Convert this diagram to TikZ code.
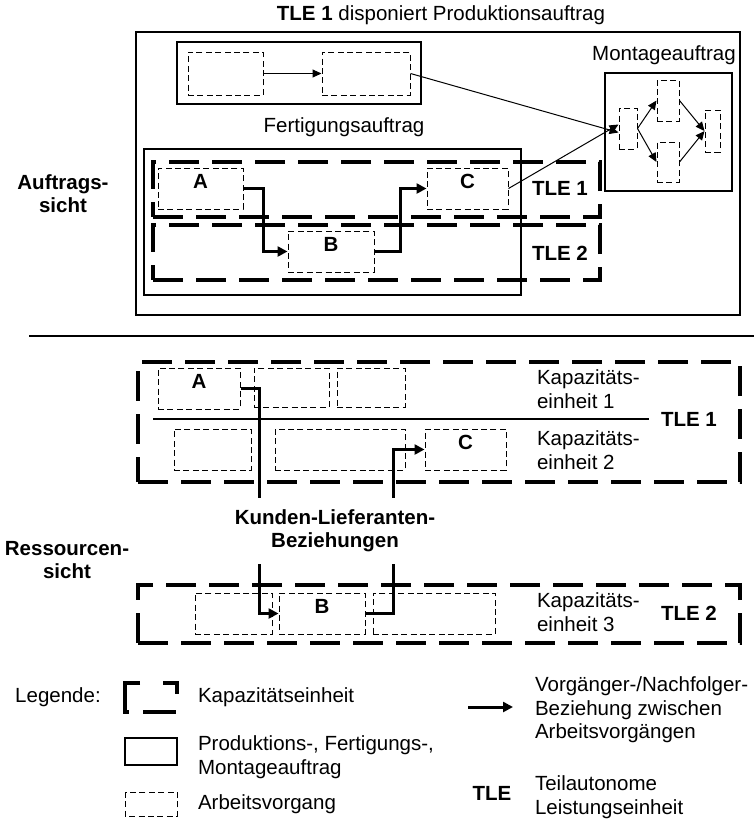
\documentclass[tikz,border=0pt]{standalone}
\usepackage{fontspec}
\setmainfont{Liberation Sans}
\usetikzlibrary{fit,arrows.meta}

\tikzset{
  auftrag/.style={draw, line width=0.6pt, inner sep=0pt},
  vorgang/.style={draw, line width=0.5pt, dash pattern=on 3pt off 1.7pt, inner sep=0pt},
  kapa/.style={draw, line width=2pt, dash pattern=on 15pt off 6.5pt, inner sep=0pt},
  folge/.style={-{Triangle[length=5pt,width=5pt]}, line width=1.5pt},
  fluss/.style={-{Triangle[length=4.5pt,width=4pt]}, line width=0.5pt},
  fett/.style={font=\fontsize{10.25}{11.5}\selectfont\bfseries},
}

\begin{document}
\begin{tikzpicture}[x=0.5pt,y=-0.5pt,font=\fontsize{10.25}{11.75}\selectfont]

\useasboundingbox (0,0) rectangle (754,821);

% Auftragssicht
\node (titel) at (441,15) {\textbf{TLE 1} disponiert Produktionsauftrag};
\node[auftrag, fit={(136,32) (740,315)}] (prod) {};

% Produktionsauftrag oben
\node[auftrag, fit={(177,42) (421,104)}] (pa) {};
\node[vorgang, fit={(188,52) (263,95)}] (d1) {};
\node[vorgang, fit={(322,52) (410,95)}] (d2) {};
\draw[fluss] (d1.east) -- (d2.west);

% Fertigungsauftrag
\node (fertlabel) at (344,127) {Fertigungsauftrag};
\node[auftrag, fit={(144,149) (521,295)}] (fa) {};
\node[kapa, fit={(153,162) (600,217)}] (tle1a) {};
\node[kapa, fit={(153,225) (600,280)}] (tle2a) {};
\node[fett] (tle1alabel) at (560,188) {TLE 1};
\node[fett] (tle2alabel) at (560,253) {TLE 2};
\node[vorgang, fit={(158,168) (243,209)}, fett] (A) {A};
\node[vorgang, fit={(427,168) (508,209)}, fett] (C) {C};
\node[vorgang, fit={(288,231) (374,272)}, fett] (B) {B};
\draw[folge] (A.east) -- ++(20,0) |- (B.west);
\draw[folge] (B.east) -- ++(26,0) |- (C.west);

% Montageauftrag
\node (montlabel) at (664,55) {Montageauftrag};
\node[auftrag, fit={(605,73) (732,191)}] (ma) {};
\node[vorgang, fit={(619,108) (637,149)}] (m1) {};
\node[vorgang, fit={(657,80) (679,121)}] (m2) {};
\node[vorgang, fit={(657,142) (679,182)}] (m3) {};
\node[vorgang, fit={(705,110) (720,152)}] (m4) {};
\draw[fluss] (m1.east) -- (m2.west);
\draw[fluss] (m1.east) -- (m3.west);
\draw[fluss] (m2.east) -- (m4.west);
\draw[fluss] (m3.east) -- (m4.west);
\draw[fluss] (d2.east) -- ([yshift=-2]m1.west);
\draw[fluss] (C.east) -- ([yshift=2]m1.west);

\node[fett, align=center] (auftragssicht) at (63,194) {Auftrags-\\sicht};

% Trennlinie
\draw[line width=0.8pt] (29,336) -- (754,336);

% Ressourcensicht
\node[kapa, fit={(138,362) (740,482)}] (tle1r) {};
\draw[line width=0.6pt] (153,419) -- (649,419);
\node[fett] (tle1rlabel) at (689,419) {TLE 1};
\node[vorgang, fit={(158,368) (240,409)}, fett] (A2) {A};
\node[vorgang, fit={(254,368) (329,407)}] (r2) {};
\node[vorgang, fit={(337,368) (405,407)}] (r3) {};
\node[vorgang, fit={(174,429) (251,470)}] (r4) {};
\node[vorgang, fit={(275,429) (405,470)}] (r5) {};
\node[vorgang, fit={(425,429) (506,470)}, fett] (C2) {C};
\node[anchor=west, align=left] (ke1) at (530,389) {Kapazitäts-\\einheit 1};
\node[anchor=west, align=left] (ke2) at (530,450) {Kapazitäts-\\einheit 2};

\node[kapa, fit={(138,585) (740,643)}] (tle2r) {};
\node[fett] (tle2rlabel) at (689,613) {TLE 2};
\node[vorgang, fit={(195,593) (272,634)}] (r6) {};
\node[vorgang, fit={(279,593) (365,634)}, fett] (B2) {B};
\node[vorgang, fit={(373,593) (495,634)}] (r7) {};
\node[anchor=west, align=left] (ke3) at (530,612) {Kapazitäts-\\einheit 3};

\draw[folge] (A2.east) -- ++(19,0) |- (B2.west);
\draw[folge] (B2.east) -- ++(28,0) |- (C2.west);
\node[fett, align=center, fill=white, inner ysep=6pt] (klb) at (335,531) {Kunden-Lieferanten-\\Beziehungen};

\node[fett, align=center] (ressourcensicht) at (67,560) {Ressourcen-\\sicht};

% Legende
\node (legende) at (58,697) {Legende:};
\draw[line width=2pt] (140,683) -- (125,683) -- (125,712) -- (129,712);
\draw[line width=2pt] (163,683) -- (177,683) -- (177,694);
\draw[line width=2pt] (143,712) -- (176,712);
\node[anchor=west] (lkapa) at (191,697) {Kapazitätseinheit};
\draw[line width=0.6pt] (125,738) rectangle (177,765);
\node[anchor=west, align=left] (lauftrag) at (191,757) {Produktions-, Fertigungs-,\\Montageauftrag};
\draw[line width=0.5pt, dash pattern=on 3pt off 1.7pt] (125,792) rectangle (177,816);
\node[anchor=west] (lvorgang) at (191,804) {Arbeitsvorgang};
\coordinate (pfeilA) at (468,707);
\coordinate (pfeilB) at (513,707);
\draw[folge] (pfeilA) -- (pfeilB);
\node[anchor=west, align=left] (lfolge) at (528,710) {Vorgänger-/Nachfolger-\\Beziehung zwischen\\Arbeitsvorgängen};
\node[fett] (ltle) at (492,793) {TLE};
\node[anchor=west, align=left] (ltletext) at (528,797) {Teilautonome\\Leistungseinheit};

\end{tikzpicture}
\end{document}
